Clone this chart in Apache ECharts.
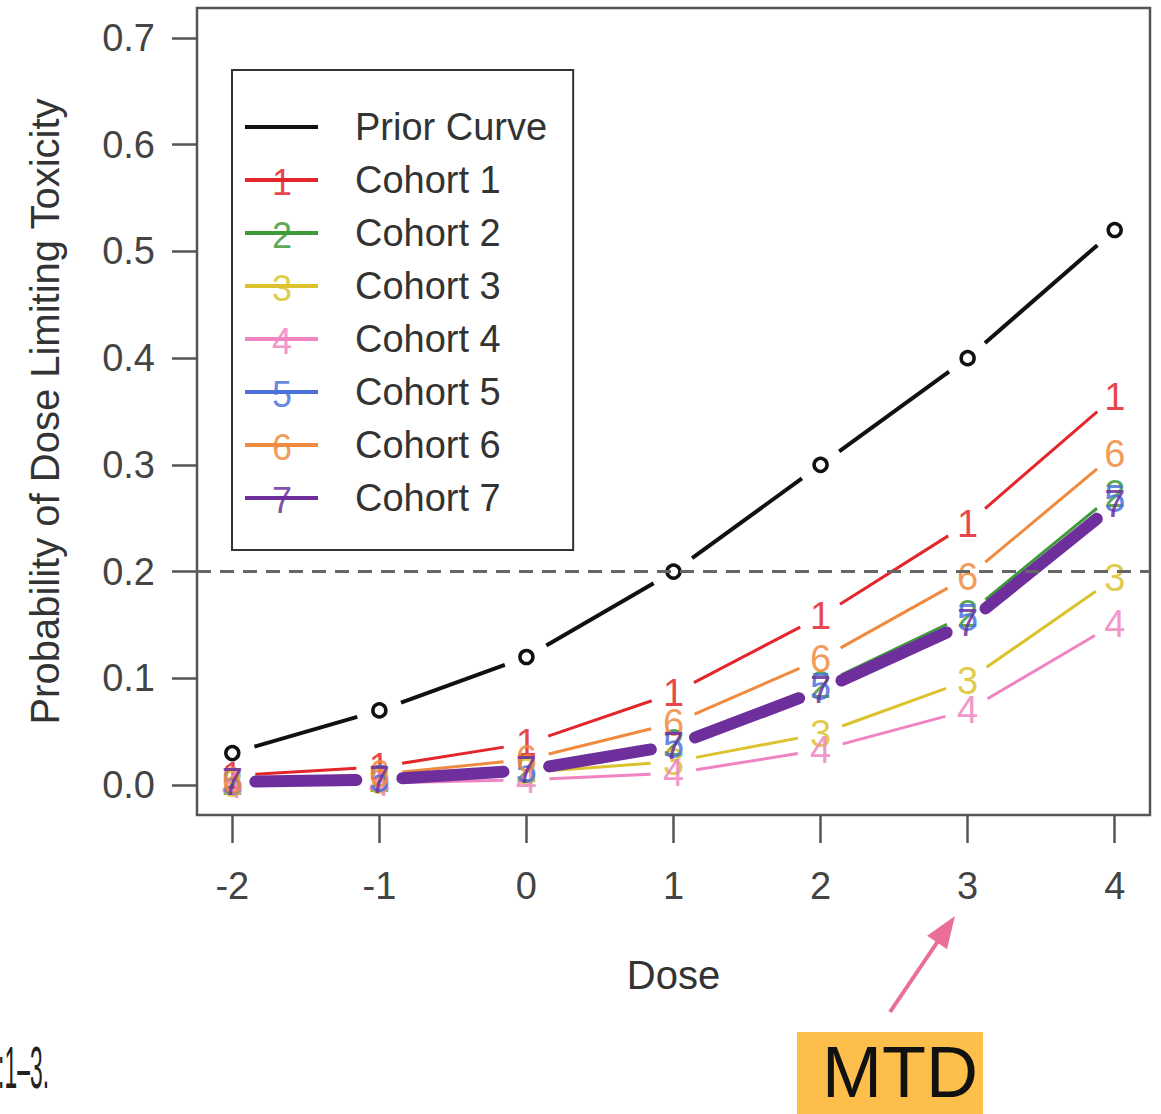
<!DOCTYPE html>
<html>
<head>
<meta charset="utf-8">
<script src="https://cdn.jsdelivr.net/npm/echarts@6/dist/echarts.min.js"></script>
<style>
html,body{margin:0;padding:0;background:#fff;}
#chart{width:1161px;height:1114px;}
</style>
</head>
<body>
<div id="chart"></div>
<script>
// ---- data ----
const doses = [-2, -1, 0, 1, 2, 3, 4];
const xTicks = [-2, -1, 0, 1, 2, 3, 4];
const yTicks = [0, 0.1, 0.2, 0.3, 0.4, 0.5, 0.6, 0.7];
const priorCurve = [0.03, 0.07, 0.12, 0.20, 0.30, 0.40, 0.52];
const cohort1 = [0.009, 0.017, 0.039, 0.086, 0.158, 0.245, 0.364];
const cohort2 = [0.003, 0.006, 0.015, 0.039, 0.094, 0.160, 0.273];
const cohort3 = [0.001, 0.004, 0.012, 0.022, 0.048, 0.098, 0.194];
const cohort4 = [0.000, 0.002, 0.005, 0.011, 0.033, 0.070, 0.151];
const cohort5 = [0.003, 0.006, 0.014, 0.038, 0.092, 0.157, 0.268];
const cohort6 = [0.004, 0.010, 0.024, 0.058, 0.118, 0.195, 0.310];
const cohort7 = [0.003, 0.005, 0.014, 0.037, 0.089, 0.152, 0.263];
const targetToxicity = 0.2;
const seriesNames = ['Prior Curve', 'Cohort 1', 'Cohort 2', 'Cohort 3', 'Cohort 4', 'Cohort 5', 'Cohort 6', 'Cohort 7'];
const cohortLabels = ['1', '2', '3', '4', '5', '6', '7'];

// ---- styles ----
const FONT = '"Liberation Sans", Arial, Helvetica, sans-serif';
const colors = ['#111111', '#e3262b', '#3f9a3a', '#dcc22c', '#f084c2', '#4b72da', '#f08a3e', '#6e2f9c'];
const widths = [4, 3, 3, 3, 3, 3, 3, 12];
const GAP = 23;

function makeSeries(idx, values, label) {
  const color = colors[idx];
  const lw = widths[idx];
  return {
    type: 'custom',
    name: seriesNames[idx],
    coordinateSystem: 'cartesian2d',
    itemStyle: { color: color },
    data: doses.map((d, i) => [d, values[i]]),
    renderItem: function (params, api) {
      const i = params.dataIndex;
      const p = api.coord([api.value(0), api.value(1)]);
      const children = [];
      if (i < doses.length - 1) {
        const q = api.coord([doses[i + 1], values[i + 1]]);
        const dx = q[0] - p[0], dy = q[1] - p[1];
        const L = Math.hypot(dx, dy);
        if (L > 2 * GAP) {
          children.push({
            type: 'line',
            shape: { x1: p[0] + dx / L * GAP, y1: p[1] + dy / L * GAP, x2: q[0] - dx / L * GAP, y2: q[1] - dy / L * GAP },
            style: { stroke: color, lineWidth: lw, lineCap: lw > 5 ? 'round' : 'butt' }
          });
        }
      }
      if (label) {
        children.push({
          type: 'text',
          style: { text: label, x: p[0], y: p[1], align: 'center', verticalAlign: 'middle',
                   font: '38px ' + FONT, fill: color, opacity: 0.85 }
        });
      } else {
        children.push({
          type: 'circle',
          shape: { cx: p[0], cy: p[1], r: 6.5 },
          style: { fill: 'transparent', stroke: '#111', lineWidth: 3.5 }
        });
      }
      return { type: 'group', children: children };
    }
  };
}

const allValues = [priorCurve, cohort1, cohort2, cohort3, cohort4, cohort5, cohort6, cohort7];
const series = allValues.map((v, k) => makeSeries(k, v, k === 0 ? null : cohortLabels[k - 1]));
series.unshift({
  type: 'line',
  name: 'target',
  data: [],
  silent: true,
  markLine: {
    silent: true,
    symbol: 'none',
    label: { show: false },
    lineStyle: { color: '#666', width: 3, type: [14, 9] },
    data: [{ yAxis: targetToxicity }]
  }
});

// legend number overlays
const legendGraphics = [];
for (let k = 1; k < seriesNames.length; k++) {
  legendGraphics.push({
    type: 'text',
    x: 282, y: 127 + 53 * k + 2,
    style: { text: cohortLabels[k - 1], align: 'center', verticalAlign: 'middle',
             font: '36px ' + FONT, fill: colors[k], opacity: 0.85 },
    z: 100
  });
}

// arrow geometry (annotation)
const tail = [890, 1012], tip = [955, 916];
const ang = Math.atan2(tip[1] - tail[1], tip[0] - tail[0]);
const hl = 32, hw = 12;
const baseX = tip[0] - hl * Math.cos(ang), baseY = tip[1] - hl * Math.sin(ang);
const head = [
  [tip[0], tip[1]],
  [baseX + hw * Math.sin(ang), baseY - hw * Math.cos(ang)],
  [baseX - hw * Math.sin(ang), baseY + hw * Math.cos(ang)]
];

const chart = echarts.init(document.getElementById('chart'), null, { renderer: 'svg' });
chart.setOption({
  animation: false,
  backgroundColor: '#ffffff',
  textStyle: { fontFamily: FONT },
  grid: {
    left: 197, top: 8, width: 953, height: 807,
    show: true, borderColor: '#555', borderWidth: 2.5, backgroundColor: 'transparent'
  },
  legend: {
    orient: 'vertical',
    left: 232, top: 70,
    padding: [37, 26, 32, 13],
    borderColor: '#333', borderWidth: 2, borderRadius: 0,
    backgroundColor: '#fff',
    itemWidth: 73, itemHeight: 4, itemGap: 13,
    icon: 'rect',
    selectedMode: false,
    textStyle: { fontSize: 38, color: '#333', lineHeight: 40, padding: [0, 0, 0, 32], fontFamily: FONT },
    data: seriesNames
  },
  xAxis: {
    type: 'value',
    min: -2.24, max: 4.24,
    position: 'bottom',
    name: 'Dose', nameLocation: 'middle', nameGap: 140,
    nameTextStyle: { fontSize: 40, color: '#333', fontFamily: FONT },
    axisLine: { show: false, onZero: false },
    splitLine: { show: false },
    axisTick: { show: true, length: 28, customValues: xTicks, lineStyle: { color: '#555', width: 2.5 } },
    axisLabel: { customValues: xTicks, margin: 52, fontSize: 38, color: '#444', fontFamily: FONT,
                 formatter: v => String(v) }
  },
  yAxis: {
    type: 'value',
    min: -0.028, max: 0.728,
    position: 'left',
    name: 'Probability of Dose Limiting Toxicity', nameLocation: 'middle', nameGap: 132,
    nameTextStyle: { fontSize: 40, color: '#333', fontFamily: FONT },
    axisLine: { show: false, onZero: false },
    splitLine: { show: false },
    axisTick: { show: true, length: 25, customValues: yTicks, lineStyle: { color: '#555', width: 2.5 } },
    axisLabel: { customValues: yTicks, margin: 42, fontSize: 38, color: '#444', fontFamily: FONT,
                 formatter: v => v.toFixed(1) }
  },
  series: series,
  graphic: legendGraphics.concat([
    { type: 'text', x: 49, y: 1068, scaleX: 0.44, scaleY: 1.15,
      style: { text: ':1–3.', align: 'right', verticalAlign: 'middle', font: '52px ' + FONT, fill: '#222' } },
    { type: 'rect', shape: { x: 797, y: 1032, width: 186, height: 90 }, style: { fill: '#fdbe4c' } },
    { type: 'text', x: 900, y: 1072,
      style: { text: 'MTD', align: 'center', verticalAlign: 'middle', font: '72px ' + FONT, fill: '#111' } },
    { type: 'line', shape: { x1: tail[0], y1: tail[1], x2: baseX + 2 * Math.cos(ang), y2: baseY + 2 * Math.sin(ang) },
      style: { stroke: '#ea6f98', lineWidth: 4 } },
    { type: 'polygon', shape: { points: head }, style: { fill: '#ea6f98' } }
  ])
});
</script>
</body>
</html>
